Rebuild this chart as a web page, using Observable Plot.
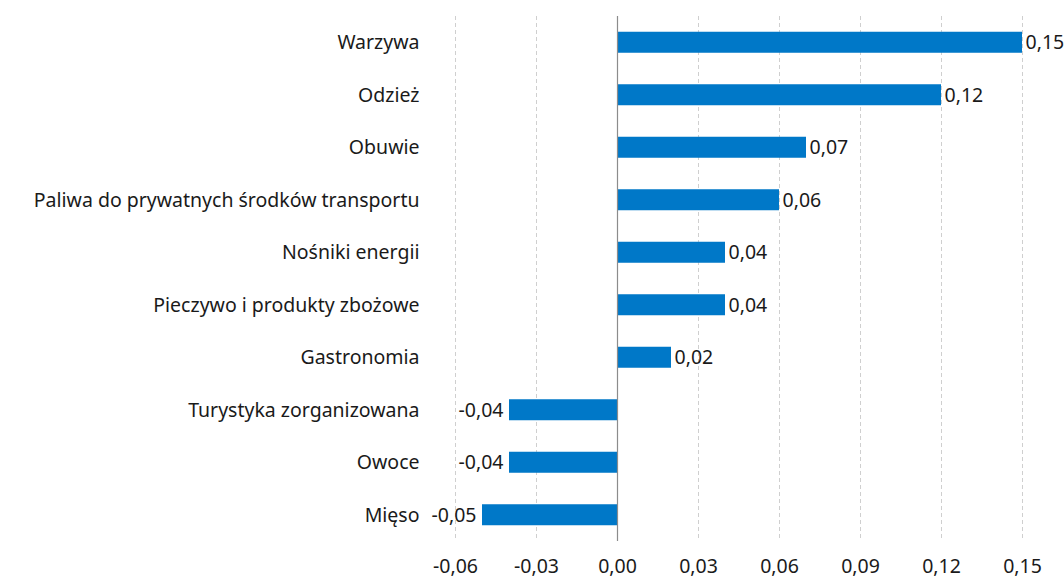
<!DOCTYPE html>
<html><head><meta charset="utf-8">
<script src="https://cdn.jsdelivr.net/npm/d3@7"></script>
<script src="https://cdn.jsdelivr.net/npm/@observablehq/plot@0.6"></script>
<style>body{margin:0;background:#fff;} svg{font-family:"Noto Sans",sans-serif;}</style>
</head><body><div id="chart"></div>
<script>
const categories = ["Warzywa","Odzież","Obuwie","Paliwa do prywatnych środków transportu","Nośniki energii","Pieczywo i produkty zbożowe","Gastronomia","Turystyka zorganizowana","Owoce","Mięso"];
const values = [0.15,0.12,0.07,0.06,0.04,0.04,0.02,-0.04,-0.04,-0.05];
const xTicks = [-0.06,-0.03,0,0.03,0.06,0.09,0.12,0.15];
const data = categories.map((c,i)=>({cat:c, v:values[i]}));
const fmt = v => d3.format(".2f")(v).replace(".", ",").replace("−","-");
const FS = 19.5;
const chart = Plot.plot({
  width: 1064, height: 579,
  marginTop: 16, marginBottom: 38, marginLeft: 455, marginRight: 42,
  style: {fontSize: FS + "px", fontFamily: "Noto Sans, sans-serif", color: "#1a1a1a"},
  x: {domain: [-0.06, 0.15], ticks: xTicks, tickFormat: fmt, label: null},
  y: {domain: categories, paddingInner: 0.6, paddingOuter: 0.3, round: false, label: null},
  marks: [
    Plot.ruleX(xTicks.filter(d=>d!==0), {stroke: "#cfcfcf", strokeDasharray: "4,3", strokeWidth: 1}),
    Plot.barX(data, {x: "v", y: "cat", fill: "#0078c8"}),
    Plot.ruleX([0], {stroke: "#8c8c8c", strokeWidth: 1.2}),
    Plot.text(data, {x: "v", y: "cat", text: d=>fmt(d.v), textAnchor: "start", filter: d=>d.v>=0, dx: 3, fontSize: FS, fill: "#1a1a1a"}),
    Plot.text(data, {x: "v", y: "cat", text: d=>fmt(d.v), textAnchor: "end", filter: d=>d.v<0, dx: -6, fontSize: FS, fill: "#1a1a1a"}),
    Plot.axisY({tickSize: 0, tickPadding: 36, fontSize: FS, label: null}),
    Plot.axisX({ticks: xTicks, tickFormat: fmt, tickSize: 0, tickPadding: 18, fontSize: FS, label: null})
  ]
});
document.getElementById("chart").appendChild(chart);
</script></body></html>
